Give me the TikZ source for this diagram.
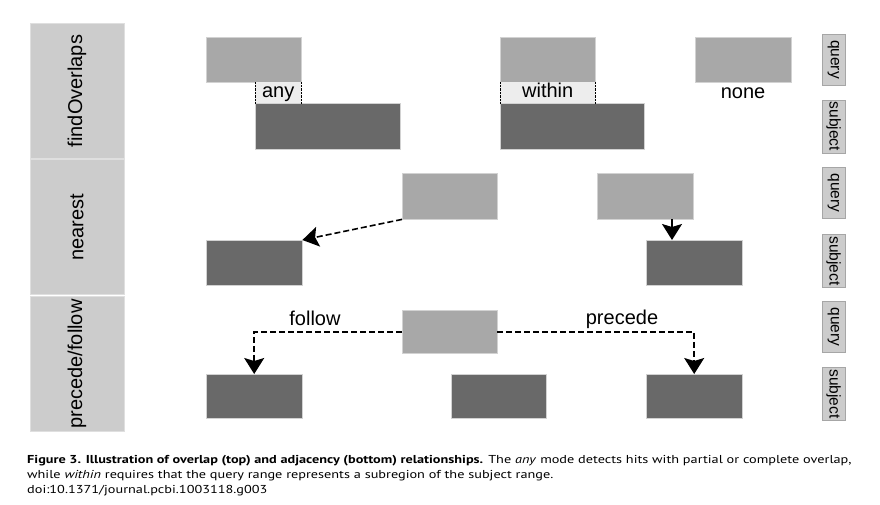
\documentclass[tikz,border=0pt]{standalone}
\usepackage{fontspec}
\setmainfont{Liberation Sans}
\newfontfamily\capfont{PT Sans}
\usetikzlibrary{positioning,calc}
\usetikzlibrary{arrows.meta}
\definecolor{panelgray}{gray}{0.8}
\definecolor{querygray}{gray}{0.66}
\definecolor{subjgray}{gray}{0.41}
\definecolor{modegray}{gray}{0.93}
\tikzstyle{hitarrow} = [line width=1.6pt,dash pattern=on 6pt off 3pt,-{Stealth[length=16pt,width=20pt,inset=3pt]}]

\begin{document}
\begin{tikzpicture}[x=1pt,y=-1pt,
	panel/.style={rectangle, fill=panelgray, draw=gray!25, rotate=90, minimum width=135pt, minimum height=94pt, inner sep=0pt, font=\fontsize{20}{24}\selectfont},
	query/.style={rectangle, fill=querygray, draw=gray!35, anchor=north west, minimum width=95pt, minimum height=45pt, inner sep=0pt},
	subject/.style={query, fill=subjgray},
	mode/.style={rectangle, fill=modegray, anchor=north west, minimum height=21pt, text height=14pt, text depth=4pt, inner sep=0pt, font=\fontsize{20}{24}\selectfont},
	tag/.style={rectangle, fill=panelgray, draw=gray!70, rotate=-90, minimum height=23pt, inner sep=0pt, font=\fontsize{15.5}{18}\selectfont},
	word/.style={font=\fontsize{20}{24}\selectfont}]
			
			\useasboundingbox (0,0) rectangle (880,504);
			
			% PANELS
			
			\node [panel] (findpanel) at (77,91) {findOverlaps};
			\node [panel] (nearpanel) at (77,227) {nearest};
			\node [panel] (pfpanel) at (77,364) {precede/follow};
			
			% OVERLAPS
			
			\node [query] (qany) at (206,37) {};
			\node [mode, minimum width=46pt] (many) at (255,82) {any};
			\node [subject, minimum width=145pt, minimum height=46pt] (sany) at (255,103) {};
			\draw [densely dotted] (many.north west) -- (many.south west);
			\draw [densely dotted] (many.north east) -- (many.south east);
			
			\node [query] (qwithin) at (500,37) {};
			\node [mode, minimum width=95pt] (mwithin) at (500,82) {within};
			\node [subject, minimum width=144pt, minimum height=46pt] (swithin) at (500,103) {};
			\draw [densely dotted] (mwithin.north west) -- (mwithin.south west);
			\draw [densely dotted] (mwithin.north east) -- (mwithin.south east);
			
			\node [query, minimum width=96pt] (qnone) at (695,37) {};
			\node [word] (mnone) at (743,93) {none};
			
			% NEAREST
			
			\node [query, minimum height=46pt] (qnear1) at (402,173) {};
			\node [subject, minimum width=96pt] (snear1) at (206,240) {};
			\draw [hitarrow] (qnear1.south west) -- (snear1.north east);
			
			\node [query, minimum width=96pt, minimum height=46pt] (qnear2) at (597,173) {};
			\node [subject, minimum width=96pt] (snear2) at (646,240) {};
			\coordinate (near2out) at (672,219);
			\draw [hitarrow, solid] (near2out) -- (near2out |- snear2.north);
			
			% PRECEDE / FOLLOW
			
			\node [query, minimum height=43pt] (qpf) at (402,310) {};
			\node [subject, minimum width=96pt, minimum height=44pt] (sfollow) at (206,374) {};
			\node [subject, minimum width=95pt, minimum height=44pt] (smid) at (451,374) {};
			\node [subject, minimum width=96pt, minimum height=44pt] (sprecede) at (646,374) {};
			\draw [hitarrow] (qpf.west) -| (sfollow.north);
			\draw [hitarrow] (qpf.east) -| (sprecede.north);
			\node [word] (lfollow) at (315,318) {follow};
			\node [word] (lprecede) at (622,319) {precede};
			
			% TAGS
			
			\node [tag, minimum width=51pt] (tquery1) at (833.5,59.5) {query};
			\node [tag, minimum width=53pt] (tsubj1) at (833.5,126.5) {subject};
			\node [tag, minimum width=51pt] (tquery2) at (833.5,193) {query};
			\node [tag, minimum width=53pt] (tsubj2) at (833.5,261) {subject};
			\node [tag, minimum width=51pt] (tquery3) at (833.5,327) {query};
			\node [tag, minimum width=53pt] (tsubj3) at (833.5,394) {subject};
			
			% CAPTION
			
			\node [anchor=north west, inner sep=0pt] (caption) at (27,455)
			{\scalebox{1.24}[1]{\begin{tabular}{@{}l@{}}\capfont\fontsize{11.5}{15}\selectfont
			\textbf{Figure 3. Illustration of overlap (top) and adjacency (bottom) relationships.} The \textit{any} mode detects hits with partial or complete overlap,\\[3pt]
			\capfont\fontsize{11.5}{15}\selectfont while \textit{within} requires that the query range represents a subregion of the subject range.\\[3pt]
			\capfont\fontsize{11.5}{15}\selectfont doi:10.1371/journal.pcbi.1003118.g003
			\end{tabular}}};

		 \end{tikzpicture}
\end{document}
